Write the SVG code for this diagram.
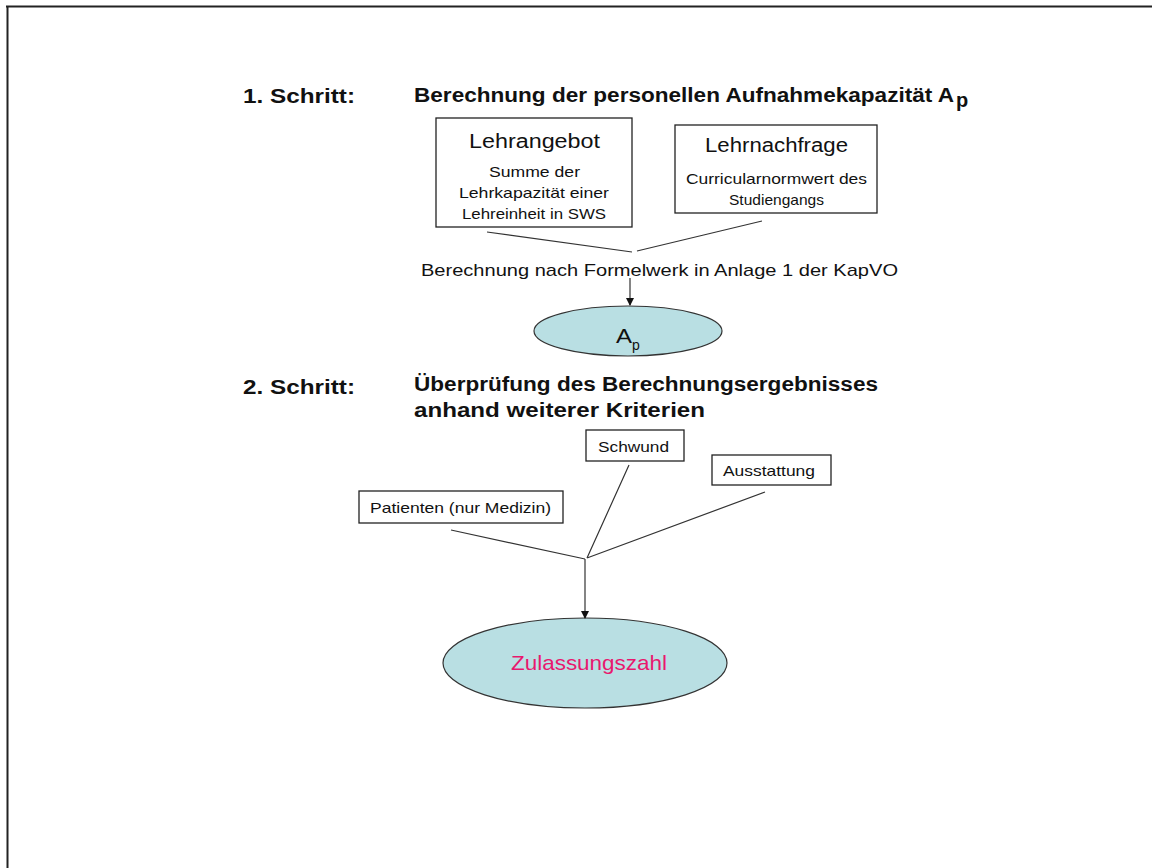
<svg xmlns="http://www.w3.org/2000/svg" width="1152" height="868" viewBox="0 0 1152 868">
<defs>
<style>
text{font-family:"Liberation Sans",Arial,sans-serif;fill:#111}
.h{font-weight:bold;font-size:20px}
.box{fill:#fff;stroke:#222;stroke-width:1.3}
.ell{fill:#b9dfe3;stroke:#333;stroke-width:1.2}
.ln{stroke:#333;stroke-width:1.2;fill:none}
.c{text-anchor:middle}
</style>
<marker id="arr" markerWidth="8" markerHeight="8" refX="7" refY="4" orient="auto" markerUnits="userSpaceOnUse">
<path d="M0,0 L8,4 L0,8 Z" fill="#111"/>
</marker>
</defs>
<rect width="1152" height="868" fill="#fff"/>
<path d="M6,6.5 H1152 M7.5,6 V868" stroke="#222" stroke-width="2" fill="none"/>

<g id="step1">
<text class="h" x="243" y="103" textLength="112" lengthAdjust="spacingAndGlyphs">1. Schritt:</text>
<text class="h" x="414" y="102" textLength="540" lengthAdjust="spacingAndGlyphs">Berechnung der personellen Aufnahmekapazität A</text>
<text class="h" x="956" y="107" font-size="13px">p</text>
</g>

<g id="lehrangebot">
<rect class="box" x="436" y="118" width="196" height="109"/>
<text x="469" y="148" font-size="20" textLength="131" lengthAdjust="spacingAndGlyphs">Lehrangebot</text>
<text x="489" y="177" font-size="15" textLength="91" lengthAdjust="spacingAndGlyphs">Summe der</text>
<text x="459" y="198" font-size="15" textLength="150" lengthAdjust="spacingAndGlyphs">Lehrkapazität einer</text>
<text x="462" y="219" font-size="15" textLength="144" lengthAdjust="spacingAndGlyphs">Lehreinheit in SWS</text>
</g>

<g id="lehrnachfrage">
<rect class="box" x="675" y="125" width="202" height="88"/>
<text x="705" y="152" font-size="20" textLength="143" lengthAdjust="spacingAndGlyphs">Lehrnachfrage</text>
<text x="686" y="184" font-size="15" textLength="181" lengthAdjust="spacingAndGlyphs">Curricularnormwert des</text>
<text x="729" y="205" font-size="15" textLength="95" lengthAdjust="spacingAndGlyphs">Studiengangs</text>
</g>

<g id="formel">
<text x="421" y="276" font-size="17" textLength="477" lengthAdjust="spacingAndGlyphs">Berechnung nach Formelwerk in Anlage 1 der KapVO</text>
</g>

<g id="ap">
<ellipse class="ell" cx="628" cy="331" rx="94" ry="25"/>
<text x="616" y="343" font-size="21" textLength="16" lengthAdjust="spacingAndGlyphs">A</text>
<text x="632" y="350" font-size="14">p</text>
</g>

<g id="step2">
<text class="h" x="243" y="394" textLength="112" lengthAdjust="spacingAndGlyphs">2. Schritt:</text>
<text class="h" x="414" y="391" textLength="464" lengthAdjust="spacingAndGlyphs">Überprüfung des Berechnungsergebnisses</text>
<text class="h" x="414" y="417" textLength="291" lengthAdjust="spacingAndGlyphs">anhand weiterer Kriterien</text>
</g>

<g id="schwund">
<rect class="box" x="586" y="430" width="98" height="31"/>
<text x="598" y="452" font-size="15" textLength="71" lengthAdjust="spacingAndGlyphs">Schwund</text>
</g>

<g id="ausstattung">
<rect class="box" x="712" y="455" width="119" height="30"/>
<text x="723" y="476" font-size="15" textLength="92" lengthAdjust="spacingAndGlyphs">Ausstattung</text>
</g>

<g id="patienten">
<rect class="box" x="359" y="491" width="204" height="32"/>
<text x="370" y="513" font-size="15" textLength="181" lengthAdjust="spacingAndGlyphs">Patienten (nur Medizin)</text>
</g>

<g id="zulassungszahl">
<ellipse class="ell" cx="585" cy="663" rx="142" ry="45"/>
<text x="511" y="670" font-size="21" textLength="156" lengthAdjust="spacingAndGlyphs" style="fill:#e8186e">Zulassungszahl</text>
</g>

<g id="connectors">
<path class="ln" d="M487,232 L632,252 M762,221 L637,251"/>
<path class="ln" d="M630,278 V305" marker-end="url(#arr)"/>
<path class="ln" d="M451,530 L585,559 M629,465 L587,558 M765,492 L587,558"/>
<path class="ln" d="M585,559 V618" marker-end="url(#arr)"/>
</g>
</svg>
